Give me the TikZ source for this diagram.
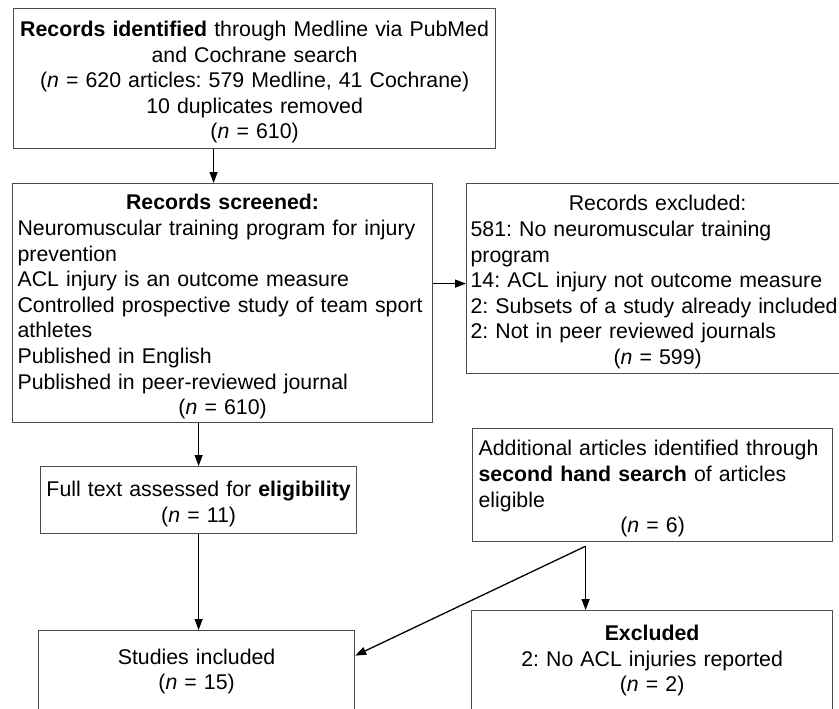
\documentclass[tikz,border=0pt]{standalone}
\usepackage{fontspec}
\setmainfont{Liberation Sans}
\usetikzlibrary{arrows.meta}
\frenchspacing

\begin{document}
\begin{tikzpicture}[x=0.5pt,y=-0.5pt,font=\fontsize{10.65}{12.8}\selectfont,
    box/.style={draw=black!70,line width=0.6pt,anchor=north west,inner xsep=2pt,inner ysep=0pt},
    lowered/.style={execute at begin node={\endgraf\vspace*{-1.5pt}}},
    arr/.style={-{Triangle[length=5.5pt,width=4pt]},line width=0.65pt}]
    \path[use as bounding box,clip] (0,0) rectangle (839,708);

    \node[box,lowered,align=center,text width=237pt,minimum height=70pt] (ident) at (13,8)
      {\textbf{Records identified} through Medline via PubMed\\
       and Cochrane search\\
       (\textit{n} = 620 articles: 579 Medline, 41 Cochrane)\\
       10 duplicates removed\\
       (\textit{n} = 610)};
    \node[box,lowered,align=left,inner xsep=2.5pt,text width=205pt,minimum height=119.5pt] (screen) at (12,183)
      {\centerline{\textbf{Records screened:}}
       Neuromuscular training program for injury\\
       prevention\\
       ACL injury is an outcome measure\\
       Controlled prospective study of team sport\\
       athletes\\
       Published in English\\
       Published in peer-reviewed journal\\
       \centerline{(\textit{n} = 610)}};
    \node[box,lowered,align=left,text width=187pt,minimum height=95pt] (excl) at (466,183)
      {\centerline{Records excluded:}
       581: No neuromuscular training\\
       program\\
       14: ACL injury not outcome measure\\
       2: Subsets of a study already included\\
       2: Not in peer reviewed journals\\
       \centerline{(\textit{n} = 599)}};
    \node[box,lowered,align=center,text width=154pt,minimum height=33.5pt] (full) at (40,466)
      {Full text assessed for \textbf{eligibility}\\
       (\textit{n} = 11)};
    \node[box,lowered,align=left,inner xsep=3pt,text width=174pt,minimum height=56.5pt] (extra) at (472,428)
      {Additional articles identified through\\
       \textbf{second hand search} of articles\\
       eligible\\
       \centerline{(\textit{n} = 6)}};
    \node[box,align=center,text width=154pt,minimum height=41pt] (studies) at (38,630)
      {Studies included\\
       (\textit{n} = 15)};
    \node[box,align=center,text width=176.5pt,minimum height=50pt] (excl2) at (471,610)
      {\textbf{Excluded}\\
       2: No ACL injuries reported\\
       (\textit{n} = 2)};

    \coordinate (a) at ([xshift=-20.5pt]ident.south);
    \coordinate (b) at ([yshift=9.75pt]screen.east);
    \coordinate (c) at ([xshift=-33.5pt,yshift=-2pt]extra.south);
    \draw[arr] (a) -- (a |- screen.north);
    \draw[arr] (b) -- (b -| excl.west);
    \draw[arr] (full.north |- screen.south) -- (full.north);
    \draw[arr] (full.south) -- (full.south |- studies.north);
    \draw[arr] (c) -- (c |- excl2.north);
    \draw[arr] (c) -- ([yshift=8pt]studies.east);
\end{tikzpicture}
\end{document}
